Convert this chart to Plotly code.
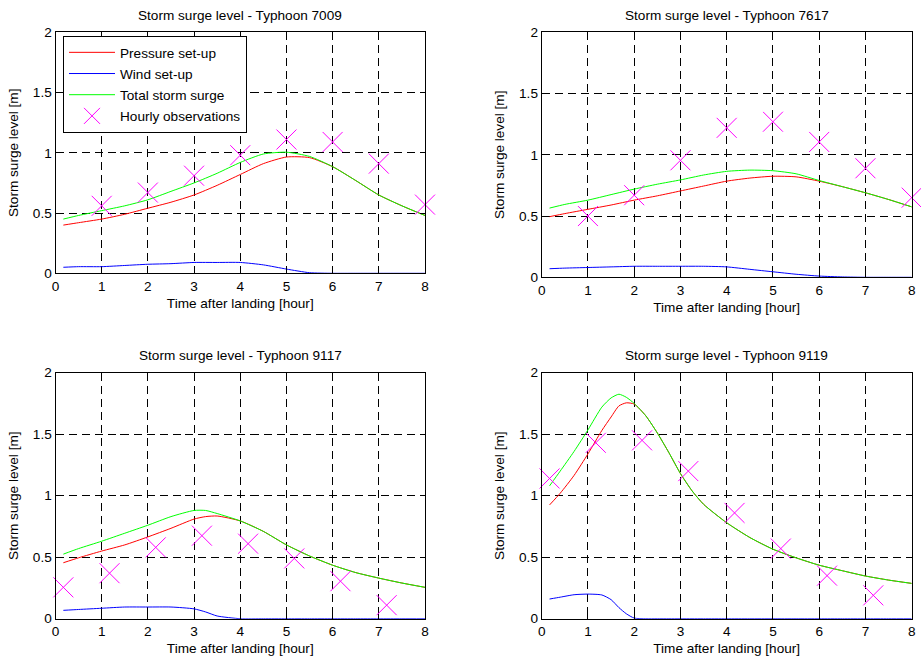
import plotly.graph_objects as go

# ---- Typhoon 7009 ----
t_7009 = [0.17, 0.5, 1.0, 1.5, 2.0, 2.5, 3.0, 3.5, 4.0, 4.5, 5.0, 5.5, 6.0, 6.5, 7.0, 7.5, 8.0]
pressure_7009 = [0.40, 0.42, 0.45, 0.49, 0.54, 0.59, 0.65, 0.73, 0.82, 0.91, 0.965, 0.96, 0.885, 0.77, 0.65, 0.56, 0.48]
wind_7009 = [0.05, 0.055, 0.055, 0.065, 0.075, 0.08, 0.09, 0.09, 0.09, 0.07, 0.035, 0.005, 0.0, 0.0, 0.0, 0.0, 0.0]
total_7009 = [0.45, 0.48, 0.52, 0.56, 0.61, 0.68, 0.75, 0.83, 0.92, 0.99, 1.005, 0.97, 0.885, 0.77, 0.65, 0.56, 0.48]
obs_t_7009 = [1, 2, 3, 4, 5, 6, 7, 8]
obs_7009 = [0.56, 0.67, 0.81, 0.98, 1.11, 1.09, 0.91, 0.57]

# ---- Typhoon 7617 ----
t_7617 = [0.17, 0.5, 1.0, 1.5, 2.0, 2.5, 3.0, 3.5, 4.0, 4.5, 5.0, 5.5, 6.0, 6.5, 7.0, 7.5, 8.0]
pressure_7617 = [0.495, 0.52, 0.555, 0.59, 0.63, 0.665, 0.705, 0.745, 0.785, 0.81, 0.825, 0.82, 0.785, 0.74, 0.69, 0.635, 0.575]
wind_7617 = [0.07, 0.075, 0.08, 0.085, 0.09, 0.09, 0.09, 0.09, 0.085, 0.065, 0.045, 0.025, 0.01, 0.003, 0.0, 0.0, 0.0]
total_7617 = [0.565, 0.595, 0.63, 0.675, 0.72, 0.76, 0.795, 0.835, 0.865, 0.875, 0.87, 0.845, 0.79, 0.74, 0.69, 0.635, 0.575]
obs_t_7617 = [1, 2, 3, 4, 5, 6, 7, 8]
obs_7617 = [0.50, 0.67, 0.955, 1.22, 1.27, 1.105, 0.89, 0.65]

# ---- Typhoon 9117 ----
t_9117 = [0.17, 0.5, 1.0, 1.5, 2.0, 2.5, 3.0, 3.25, 3.5, 4.0, 4.5, 5.0, 5.5, 6.0, 6.5, 7.0, 7.5, 8.0]
pressure_9117 = [0.455, 0.495, 0.55, 0.60, 0.665, 0.735, 0.81, 0.83, 0.835, 0.795, 0.71, 0.60, 0.51, 0.435, 0.375, 0.33, 0.29, 0.255]
wind_9117 = [0.068, 0.075, 0.085, 0.095, 0.095, 0.095, 0.08, 0.055, 0.022, 0.0, 0.0, 0.0, 0.0, 0.0, 0.0, 0.0, 0.0, 0.0]
total_9117 = [0.525, 0.57, 0.63, 0.695, 0.76, 0.83, 0.88, 0.88, 0.855, 0.795, 0.71, 0.60, 0.51, 0.435, 0.375, 0.33, 0.29, 0.255]
obs_t_9117 = [0.17, 1.17, 2.17, 3.17, 4.17, 5.17, 6.17, 7.17]
obs_9117 = [0.255, 0.37, 0.58, 0.675, 0.61, 0.49, 0.305, 0.11]

# ---- Typhoon 9119 ----
t_9119 = [0.17, 0.4, 0.7, 1.0, 1.3, 1.5, 1.67, 1.83, 2.0, 2.25, 2.5, 2.75, 3.0, 3.25, 3.5, 4.0, 4.5, 5.0, 5.5, 6.0, 6.5, 7.0, 7.5, 8.0]
pressure_9119 = [0.925, 1.02, 1.165, 1.34, 1.53, 1.64, 1.73, 1.755, 1.745, 1.65, 1.51, 1.35, 1.18, 1.04, 0.93, 0.78, 0.66, 0.565, 0.495, 0.435, 0.39, 0.347, 0.314, 0.287]
wind_9119 = [0.16, 0.175, 0.195, 0.20, 0.193, 0.155, 0.09, 0.04, 0.005, 0.0, 0.0, 0.0, 0.0, 0.0, 0.0, 0.0, 0.0, 0.0, 0.0, 0.0, 0.0, 0.0, 0.0, 0.0]
total_9119 = [1.08, 1.20, 1.36, 1.535, 1.72, 1.795, 1.825, 1.80, 1.75, 1.65, 1.51, 1.35, 1.18, 1.04, 0.93, 0.78, 0.66, 0.565, 0.495, 0.435, 0.39, 0.347, 0.314, 0.287]
obs_t_9119 = [0.17, 1.17, 2.17, 3.17, 4.17, 5.17, 6.17, 7.17]
obs_9119 = [1.14, 1.43, 1.45, 1.20, 0.86, 0.57, 0.35, 0.19]

typhoons = ["7009", "7617", "9117", "9119"]
series = {
    "7009": (t_7009, pressure_7009, wind_7009, total_7009, obs_t_7009, obs_7009),
    "7617": (t_7617, pressure_7617, wind_7617, total_7617, obs_t_7617, obs_7617),
    "9117": (t_9117, pressure_9117, wind_9117, total_9117, obs_t_9117, obs_9117),
    "9119": (t_9119, pressure_9119, wind_9119, total_9119, obs_t_9119, obs_9119),
}

x_ticks = [0, 1, 2, 3, 4, 5, 6, 7, 8]
y_ticks = [0, 0.5, 1, 1.5, 2]

W, H = 921, 661
# panel boxes in pixels: (left, right, top, bottom)
boxes = [
    (55.5, 425.0, 32.3, 273.3),
    (541.7, 911.7, 32.3, 277.3),
    (55.5, 425.0, 372.7, 618.7),
    (541.7, 911.7, 372.7, 618.7),
]

FONT = "Liberation Sans, Arial, Helvetica, sans-serif"
FS = 13.6
fig = go.Figure()
layout = dict(
    width=W, height=H,
    margin=dict(l=0, r=0, t=0, b=0, pad=0, autoexpand=False),
    paper_bgcolor="white", plot_bgcolor="white",
    font=dict(family=FONT, size=FS, color="black"),
    showlegend=True,
    legend=dict(
        x=63 / W, y=1 - 36 / H, xanchor="left", yanchor="top",
        bgcolor="white", bordercolor="black", borderwidth=1,
        font=dict(size=FS), tracegroupgap=0.5, itemwidth=46,
    ),
    annotations=[],
)

for i, name in enumerate(typhoons):
    t, p, w, tot, ot, ob = series[name]
    xa = "x" if i == 0 else f"x{i + 1}"
    ya = "y" if i == 0 else f"y{i + 1}"
    first = i == 0
    fig.add_trace(go.Scatter(x=t, y=p, mode="lines", name="Pressure set-up", legendgroup="p",
                             line=dict(color="#FF0000", width=1, shape="spline", smoothing=0.6),
                             xaxis=xa, yaxis=ya, showlegend=first))
    fig.add_trace(go.Scatter(x=t, y=w, mode="lines", name="Wind set-up", legendgroup="w",
                             line=dict(color="#0000FF", width=1, shape="spline", smoothing=0.6),
                             xaxis=xa, yaxis=ya, showlegend=first))
    fig.add_trace(go.Scatter(x=t, y=tot, mode="lines", name="Total storm surge", legendgroup="t",
                             line=dict(color="#00FF00", width=1, shape="spline", smoothing=0.6),
                             xaxis=xa, yaxis=ya, showlegend=first))
    fig.add_trace(go.Scatter(x=ot, y=ob, mode="markers", name="Hourly observations", legendgroup="o",
                             marker=dict(symbol="x-thin-open", size=20, color="#FF00FF",
                                         line=dict(color="#FF00FF", width=1)),
                             xaxis=xa, yaxis=ya, showlegend=first, cliponaxis=False))

    l, r, top, bot = boxes[i]
    axis_common = dict(
        showline=True, linecolor="black", linewidth=1, mirror="allticks",
        ticks="inside", ticklen=5, tickcolor="black", tickwidth=1,
        showgrid=True, gridcolor="black", gridwidth=1, griddash="8px,5px",
        zeroline=False, tickfont=dict(size=FS), title_font=dict(size=FS),
        fixedrange=True, automargin=False,
    )
    layout["xaxis" if i == 0 else f"xaxis{i + 1}"] = dict(
        axis_common, domain=[l / W, r / W], anchor=ya, range=[0, 8],
        tickvals=x_ticks, ticktext=[str(v) for v in x_ticks],
        title=dict(text="Time after landing [hour]", standoff=5),
    )
    layout["yaxis" if i == 0 else f"yaxis{i + 1}"] = dict(
        axis_common, domain=[1 - bot / H, 1 - top / H], anchor=xa, range=[0, 2],
        tickvals=y_ticks, ticktext=["0", "0.5", "1", "1.5", "2"],
        title=dict(text="Storm surge level [m]", standoff=11),
    )
    layout["annotations"].append(dict(
        text=f"Storm surge level - Typhoon {name}", xref="paper", yref="paper",
        x=(l + r) / 2 / W, y=1 - (top - 17) / H, xanchor="center", yanchor="middle",
        showarrow=False, font=dict(size=FS),
    ))

fig.update_layout(**layout)
fig.write_html("out.html")
